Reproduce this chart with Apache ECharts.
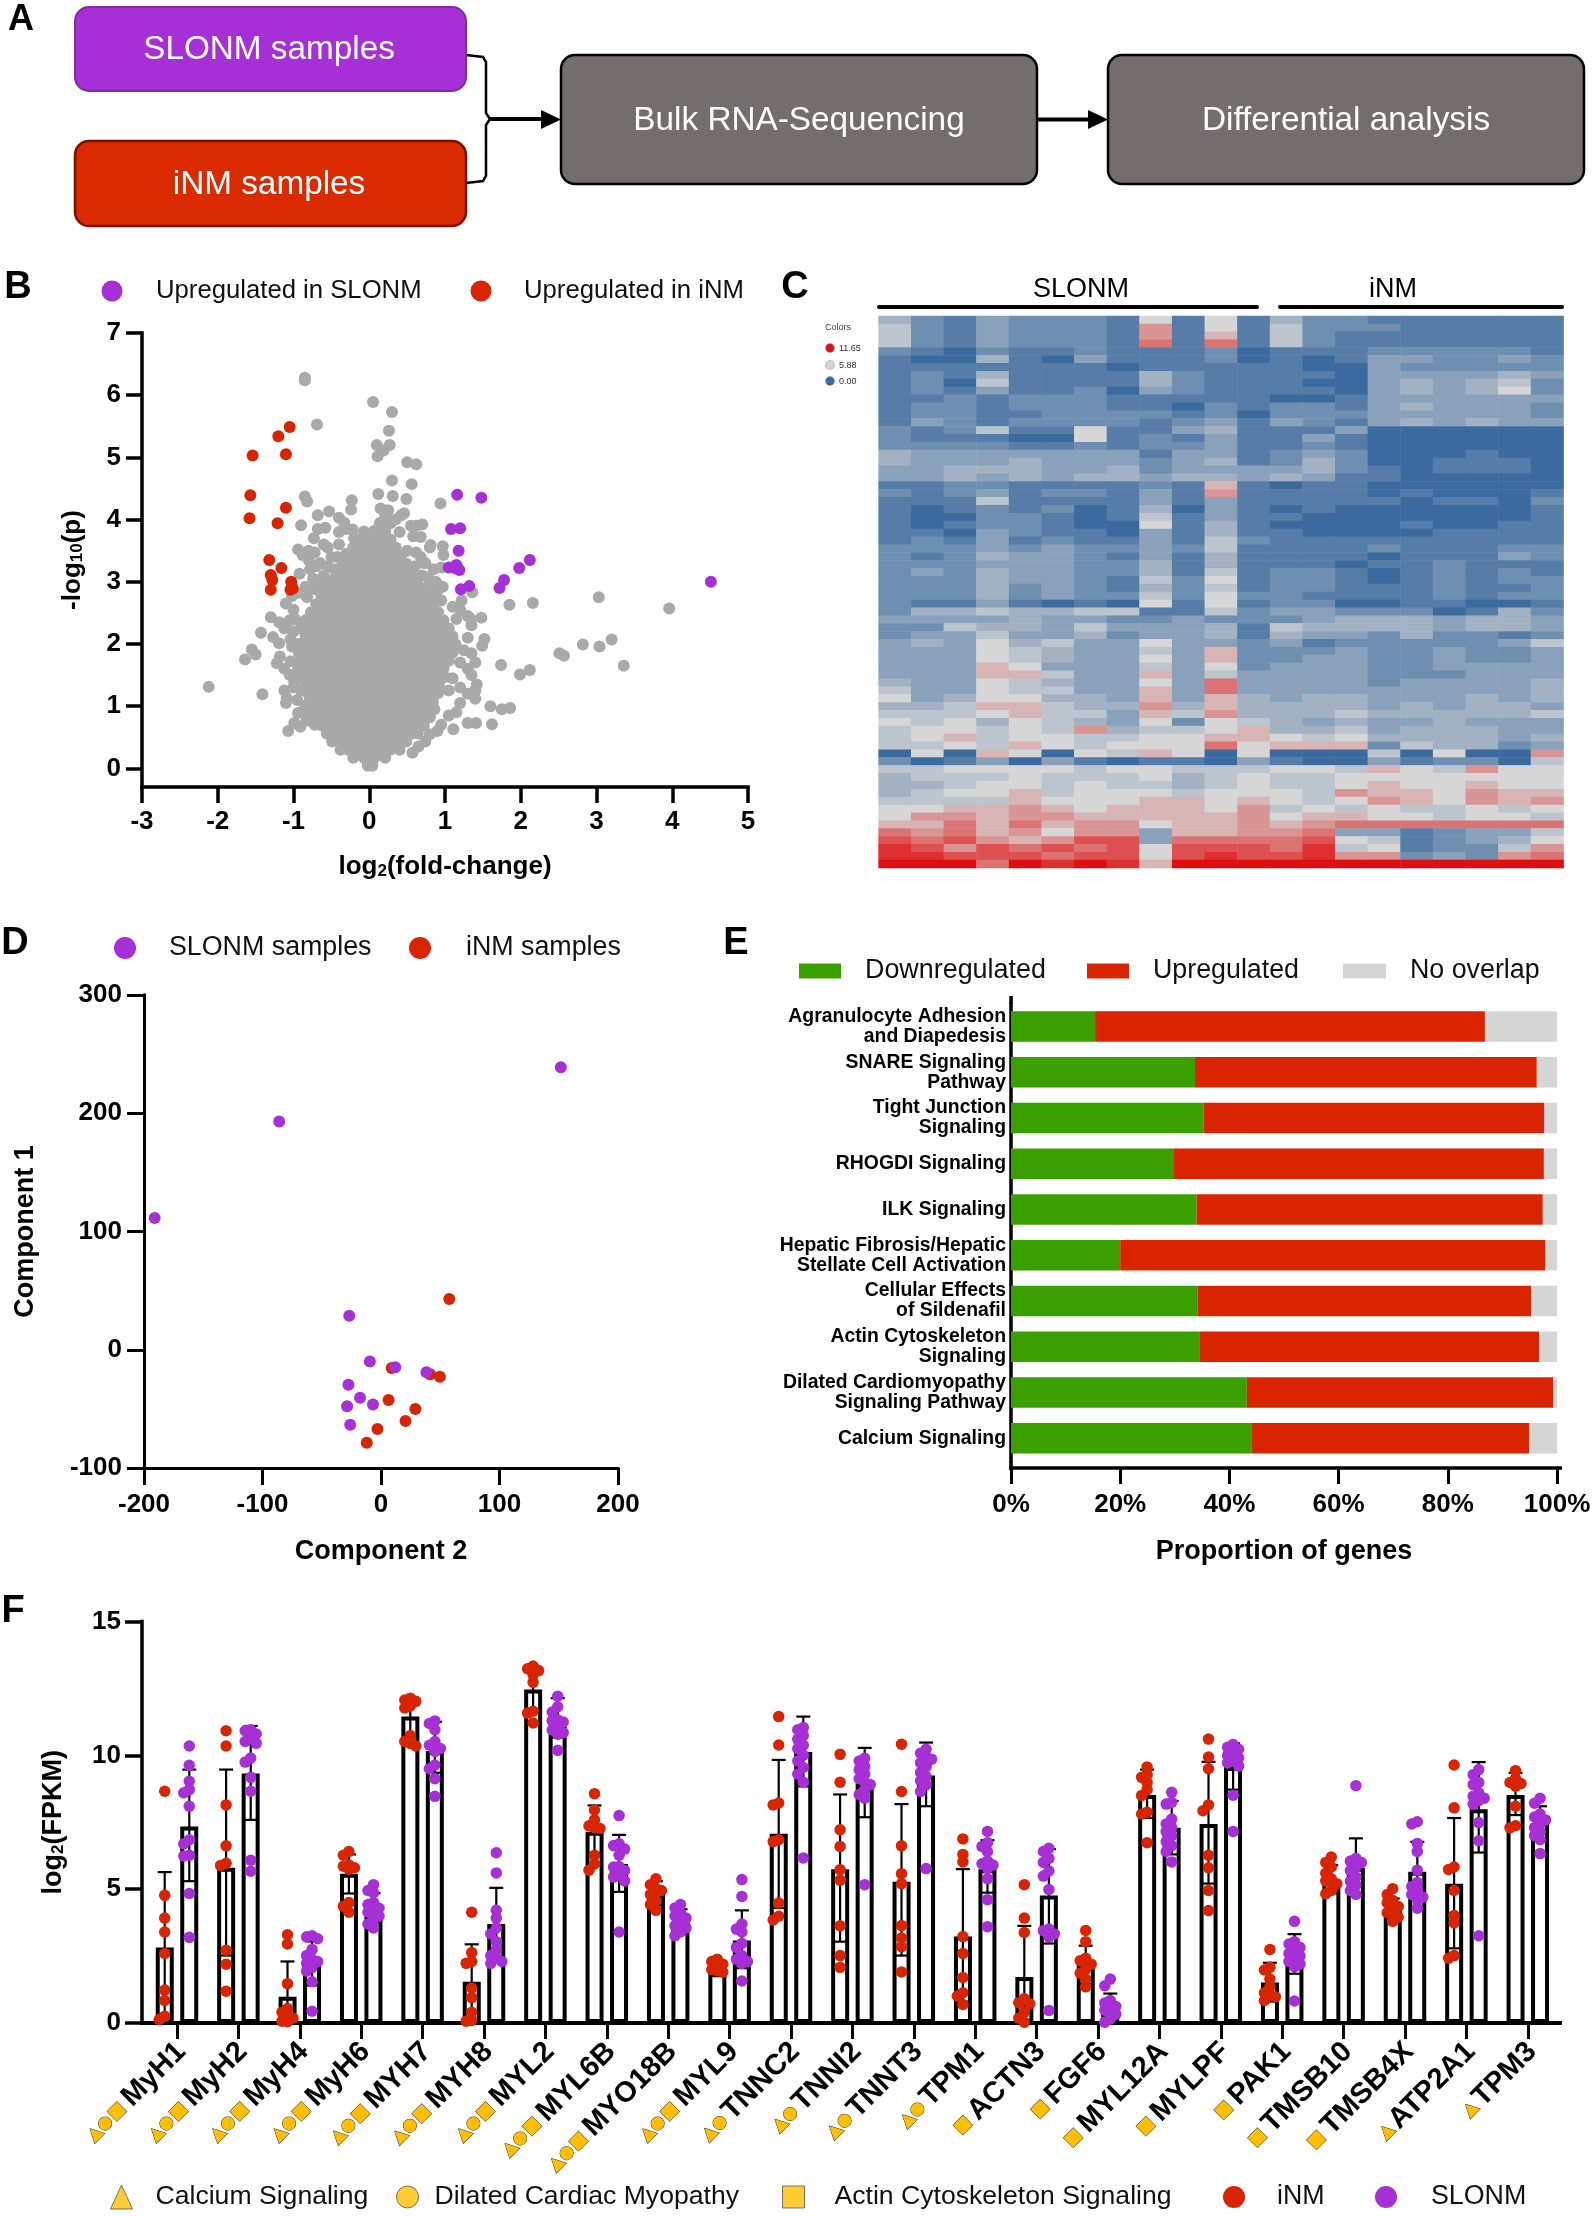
<!DOCTYPE html>
<html><head><meta charset="utf-8">
<style>html,body{margin:0;padding:0;background:#fff}#c{width:1594px;height:2216px}</style>
<script src="https://cdn.jsdelivr.net/npm/echarts@6/dist/echarts.min.js"></script>
</head><body><div id="c"></div>
<script>
const PURPLE='#a62fd6', RED='#d92400', GRAY='#a9a9a9', GREEN='#3aa000', LGRAY='#d5d5d5', GOLD='#ffbf00';
const FONT='"Liberation Sans"';

// ---------- panel B: volcano ----------
const volcanoSlonm=[[1.16,4.4],[1.48,4.35],[1.08,3.85],[1.2,3.86],[1.18,3.5],[1.05,3.23],[1.15,3.27],[1.13,3.22],[1.19,3.19],[2.12,3.35],[1.98,3.22],[1.78,3.03],[1.72,2.9],[1.32,2.93],[1.21,2.88],[4.51,3.0]];
const volcanoInm=[[-1.05,5.49],[-1.2,5.34],[-1.1,5.05],[-1.54,5.03],[-1.57,4.39],[-1.1,4.19],[-1.58,4.02],[-1.21,3.94],[-1.32,3.35],[-1.16,3.22],[-1.3,3.11],[-1.28,3.03],[-1.03,3.0],[-1.3,2.87],[-1.04,2.87],[-1.01,2.89]];
const volcanoOutliers=[[-0.85,6.28],[-0.85,6.24],[-0.69,5.53],[0.05,5.89],[0.3,5.73],[0.26,5.43],[0.1,5.2],[0.27,5.2],[0.19,5.11],[0.11,5.02],[0.5,4.92],[0.62,4.89],[0.3,4.63],[0.56,4.57],[0.12,4.41],[0.31,4.38],[0.49,4.33],[0.94,4.26],[-0.85,4.37],[-0.82,4.29],[-0.23,4.31],[-0.24,4.16],[-0.68,4.07],[-0.53,4.13],[-0.4,4.03],[-0.33,3.95],[-0.9,3.91],[-0.68,3.85],[-0.58,3.87],[-0.22,3.84],[-0.4,3.8],[-0.73,3.7],[-0.94,3.52],[-0.88,3.43],[-0.8,3.5],[-0.72,3.47],[-0.6,3.6],[-0.55,3.55],[-0.5,3.4],[-0.65,3.3],[-0.78,3.2],[-0.92,3.13],[-0.74,3.05],[-0.6,3.1],[-0.46,3.2],[-0.84,2.92],[-0.72,2.88],[-0.6,2.88],[-0.5,3.0],[-0.95,2.82],[-1.1,2.65],[-1.02,2.77],[-1.0,2.55],[-0.5,2.7],[-0.62,2.75],[-0.37,3.0],[-0.42,3.4],[-0.3,3.45],[-0.4,3.6],[-0.2,3.7],[-0.3,3.85],[0.7,3.92],[0.58,3.73],[0.68,3.72],[0.62,3.47],[0.81,3.59],[0.97,3.57],[0.98,3.43],[0.72,3.3],[0.95,3.23],[0.78,3.07],[0.97,2.92],[1.36,2.83],[1.85,2.63],[2.16,2.66],[3.03,2.75],[3.96,2.57],[1.48,2.42],[1.34,2.4],[1.52,2.08],[1.49,1.97],[2.82,1.99],[3.04,1.96],[3.2,2.07],[2.51,1.85],[2.57,1.81],[3.36,1.65],[1.74,1.66],[2.12,1.58],[1.99,1.51],[1.6,1.0],[1.75,0.95],[1.86,0.97],[1.62,0.71],[1.41,0.73],[1.3,0.73],[1.11,0.63],[0.57,0.25],[0.74,0.43],[-2.12,1.31],[-1.41,1.19],[-1.07,0.6],[-1.64,1.75],[-1.55,1.91],[-1.5,1.83],[-1.43,2.18],[-1.3,2.43],[-1.27,2.11],[-1.19,2.01],[-1.04,2.07],[-1.02,1.96],[-1.18,1.8],[-1.22,1.69],[-1.04,1.72],[-1.12,1.6],[-0.99,1.4],[-1.12,1.25],[-1.09,1.13],[-0.94,0.89],[-0.99,0.73],[-0.91,0.67],[-0.83,0.77],[0.8,3.55],[0.74,3.3],[0.88,3.0],[0.8,2.95],[0.7,3.1],[0.85,2.8],[0.95,2.7],[1.1,2.6],[1.2,2.55],[1.3,2.45],[1.22,2.7],[1.15,2.4],[1.35,2.3],[1.3,2.1],[1.25,1.9],[1.35,1.85],[1.4,1.7],[1.3,1.6],[1.2,1.7],[1.35,1.5],[1.42,1.35],[1.4,1.25],[1.3,1.2],[1.4,1.12],[1.2,1.3],[1.1,1.45],[1.05,1.25],[1.15,0.9],[1.05,0.85],[0.95,0.7],[0.9,0.6],[0.8,0.55],[0.65,0.35],[1.2,1.05],[0.35,4.0],[0.25,4.15],[0.15,4.18],[0.42,4.07],[0.46,4.1],[0.55,3.9],[0.62,3.9],[0.4,3.8],[0.07,3.82],[-0.05,3.65],[0.15,3.95],[-1.19,2.35],[-1.05,2.38],[-0.98,2.4],[-1.12,2.25],[-1.0,2.2],[-0.95,2.0],[-1.05,1.5],[-0.95,1.45],[-1.0,1.3],[-0.9,1.25],[-0.92,1.6],[-1.1,1.05],[-0.95,1.1],[-0.85,1.0],[-0.8,0.85],[-0.72,0.7],[-0.82,2.75],[-0.7,3.25],[-0.55,3.25],[-0.62,3.0],[-0.8,3.35],[0.6,3.25],[0.85,3.2],[0.5,3.5],[0.68,3.4],[0.9,2.85],[0.58,3.1]];
// dense gene cloud, read row by row from the solid grey mass
const volcanoCloudP=[0.04,0.17,0.3,0.43,0.56,0.69,0.82,0.95,1.08,1.21,1.34,1.47,1.6,1.73,1.86,1.99,2.12,2.25,2.38,2.51,2.64,2.77,2.9,3.03,3.16,3.29,3.42,3.55,3.68,3.81,3.94,4.07];
const volcanoCloudFC=[
[-0.02,0.04],
[-0.21,-0.07,0.07,0.21],
[-0.38,-0.28,-0.14,0,0.14,0.28,0.4],
[-0.49,-0.35,-0.21,-0.07,0.07,0.21,0.35,0.49],
[-0.56,-0.42,-0.28,-0.14,0,0.14,0.28,0.42,0.56,0.64],
[-0.63,-0.49,-0.35,-0.21,-0.07,0.07,0.21,0.35,0.49,0.63,0.72],
[-0.7,-0.56,-0.42,-0.28,-0.14,0,0.14,0.28,0.42,0.56,0.7,0.8],
[-0.77,-0.63,-0.49,-0.35,-0.21,-0.07,0.07,0.21,0.35,0.49,0.63,0.77,0.86],
[-0.79,-0.7,-0.56,-0.42,-0.28,-0.14,0,0.14,0.28,0.42,0.56,0.7,0.84],
[-0.81,-0.77,-0.63,-0.49,-0.35,-0.21,-0.07,0.07,0.21,0.35,0.49,0.63,0.77,0.91],
[-0.84,-0.7,-0.56,-0.42,-0.28,-0.14,0,0.14,0.28,0.42,0.56,0.7,0.84,0.92],
[-0.91,-0.77,-0.63,-0.49,-0.35,-0.21,-0.07,0.07,0.21,0.35,0.49,0.63,0.77,0.91,1.0],
[-0.94,-0.84,-0.7,-0.56,-0.42,-0.28,-0.14,0,0.14,0.28,0.42,0.56,0.7,0.84,0.98],
[-0.91,-0.77,-0.63,-0.49,-0.35,-0.21,-0.07,0.07,0.21,0.35,0.49,0.63,0.77,0.91,1.05],
[-0.93,-0.84,-0.7,-0.56,-0.42,-0.28,-0.14,0,0.14,0.28,0.42,0.56,0.7,0.84,0.98,1.1],
[-0.91,-0.77,-0.63,-0.49,-0.35,-0.21,-0.07,0.07,0.21,0.35,0.49,0.63,0.77,0.91,1.05,1.14],
[-0.84,-0.7,-0.56,-0.42,-0.28,-0.14,0,0.14,0.28,0.42,0.56,0.7,0.84,0.98,1.1],
[-0.91,-0.77,-0.63,-0.49,-0.35,-0.21,-0.07,0.07,0.21,0.35,0.49,0.63,0.77,0.91,1.05],
[-0.84,-0.7,-0.56,-0.42,-0.28,-0.14,0,0.14,0.28,0.42,0.56,0.7,0.84,0.98],
[-0.77,-0.63,-0.49,-0.35,-0.21,-0.07,0.07,0.21,0.35,0.49,0.63,0.77,0.91],
[-0.7,-0.56,-0.42,-0.28,-0.14,0,0.14,0.28,0.42,0.56,0.7,0.84],
[-0.63,-0.49,-0.35,-0.21,-0.07,0.07,0.21,0.35,0.49,0.63,0.77],
[-0.56,-0.42,-0.28,-0.14,0,0.14,0.28,0.42,0.56,0.7],
[-0.49,-0.35,-0.21,-0.07,0.07,0.21,0.35,0.49,0.63],
[-0.42,-0.28,-0.14,0,0.14,0.28,0.42,0.56],
[-0.35,-0.21,-0.07,0.07,0.21,0.35,0.49],
[-0.28,-0.14,0,0.14,0.28,0.42],
[-0.21,-0.07,0.07,0.21,0.35],
[-0.14,0,0.14,0.28],
[-0.07,0.07,0.21],
[0.14,0.28],
[0.21]];

// ---------- panel C: heatmap, one row per string, digits/hex = level 0..12 ----------
const heatLegendValues=['11.65','5.88','0.00'];
const heatRows=[
"421322216161 422111111","521322218161 522211111","521322218171 521111111","521322219191 521111111",
"210211211120 111222221","100410311120 101332232","111111101111 100322222","121411114211 110333343",
"120511114211 100343452","121311203211 110343462","112122211111 001333333","122122211021 221343332",
"122112222120 222333332","132122221231 321343433","212511611341 113000000","211100612131 131000000",
"222211212231 121000000","433333331331 232000100","433343332341 242001110","334443342333 342101110",
"334343443443 431100000","112211112171 011000000","212312213181 111010001","111511113131 111101102",
"101212014031 010000001","100221015131 100000001","101221006141 000010011","110321103141 100001111",
"121312113152 111111111","222323223251 111211122","212433213141 111011132","222333224141 110112111",
"232433224151 221012121","222433215261 221012122","222423214251 221112112","222423225262 211112122",
"211310106161 220011001","244544551152 332220142","333343322322 234443443","225443533341 544443443",
"233533423341 433242212","343645336332 312222235","333654335372 223223223","333654336372 233223223",
"333763335362 333223333","333775337353 333222333","433654336393 333233334","533655337393 333333334",
"634664437374 344333434","445775448474 444343443","555675537584 445444445","656465436265 434334333",
"566565845567 445344433","567566556677 656444434","556576566696 777254423","060760657606 000506008",
"201303101103 100312205","556666566555 665765866","455565556456 556666666","445665655456 556766766",
"456675666566 658776877","555576667767 656876878","667787677768 565655656","688788777778 677665665",
"779797886778 789999999","989786883778 893312335","a9a878aa3999 9a6512346","ba8a9a9a6aaa 9b5612258",
"bbaaa9aa6aba ab8823289","ccc9cbcb7ccc ccccccccc"];

// ---------- panel D: PCA ----------
const pcaSlonm=[[151.8,239],[-85.9,193],[-191,111.5],[-26.8,28.7],[-9.4,-10],[12,-14.7],[38.4,-19],[-27.5,-29.6],[-17.7,-40.6],[-6.8,-46.3],[-28.6,-47.7],[-26,-63.4]];
const pcaInm=[[57.6,43],[9,-15.4],[41.4,-20.7],[49.7,-22.8],[6.4,-42.4],[29,-50.2],[20.7,-60.2],[-3,-67],[-12,-78.7]];

// ---------- panel E: pathways ----------
const pathways=['Agranulocyte Adhesion\nand Diapedesis','SNARE Signaling\nPathway','Tight Junction\nSignaling','RHOGDI Signaling','ILK Signaling','Hepatic Fibrosis/Hepatic\nStellate Cell Activation','Cellular Effects\nof Sildenafil','Actin Cytoskeleton\nSignaling','Dilated Cardiomyopathy\nSignaling Pathway','Calcium Signaling'];
const downShare=[15.4,33.7,35.3,29.7,34,20,34.2,34.6,43.2,44];
const upShare=[71.4,62.6,62.4,67.9,63.4,77.9,61.1,62.1,56.1,50.9];
const noOverlapShare=[13.2,3.7,2.3,2.4,2.6,2.1,4.7,3.3,0.7,5.1];

// ---------- panel F: genes ----------
const genes=['MyH1','MyH2','MyH4','MyH6','MYH7','MYH8','MYL2','MYL6B','MYO18B','MYL9','TNNC2','TNNI2','TNNT3','TPM1','ACTN3','FGF6','MYL12A','MYLPF','PAK1','TMSB10','TMSB4X','ATP2A1','TPM3'];
const genePathways=['tcs','tcs','tcs','tcs','tcs','tcs','tcs','tcs','tcs','tcs','tc','tc','tc','tc','s','s','s','s','s','s','s','t','t'];
const inmMean=[2.82,5.8,0.98,5.58,11.45,1.54,12.46,7.15,4.84,1.97,7.07,5.75,5.28,3.23,1.72,2.17,8.52,7.44,1.51,5.36,4.29,5.2,8.52];
const inmHigh=[5.64,9.47,2.3,6.3,12.15,2.94,13.3,8.13,5.3,2.25,9.83,8.54,8.18,5.75,3.63,2.89,9.47,9.76,2.25,5.9,4.65,7.66,9.35];
const inmLow=[0,2.52,0,4.84,10.75,0.1,11.6,6.34,4.4,1.75,4.3,3.04,2.52,0.8,0,1.45,7.66,5.21,0.8,4.85,3.95,2.79,7.77];
const slonmMean=[7.34,9.32,2.23,4.29,10.16,3.7,11.18,5.94,3.8,3.08,10.13,8.96,9.25,5.75,4.76,0.62,7.3,9.57,2.38,5.8,5.65,7.99,7.47];
const slonmHigh=[9.47,11.1,3.05,4.85,11.25,5.05,12.14,7.03,4.25,4.21,11.45,10.28,10.48,6.83,6.5,1.1,8.3,10.45,3.32,6.9,6.77,9.75,8.1];
const slonmLow=[5.3,7.59,1.4,3.75,9.35,2.38,10.67,4.9,3.4,2.05,8.84,7.69,8.1,4.87,2.97,0.15,6.3,8.72,1.84,4.8,4.58,6.37,6.9];
const inmDots=[
[8.66,4.77,3.92,3.4,2.6,1.23,0.84,0.25,0.13],
[10.92,10.35,8.15,6.62,5.97,5.89,2.72,2.2,1.19],
[3.3,2.95,1.47,0.54,0.4,0.25,0.18,0.07,0.05],
[6.41,6.27,5.9,5.86,5.8,5.75,4.5,4.36,4.14],
[12.14,12.07,12.02,11.85,11.77,10.74,10.52,10.35,10.45],
[4.14,2.63,2.3,2.23,1.31,0.95,0.4,0.1,0.07],
[13.34,13.24,13.17,13.09,13.02,12.73,11.65,11.58,11.21],
[8.57,7.96,7.59,7.37,7.27,7.3,6.27,5.94,5.71],
[5.39,5.17,5.02,4.92,4.8,4.58,4.43,4.21,4.95],
[2.38,2.3,2.16,2.08,2.0,1.98,1.95,1.9,2.2],
[11.45,10.39,8.22,8.15,6.85,6.78,4.48,3.99,3.85],
[10.04,9.0,7.22,6.6,5.73,5.34,3.63,2.52,2.08],
[10.42,8.65,6.62,5.58,5.21,3.64,3.18,2.85,1.91],
[6.88,6.3,6.02,3.23,2.6,1.7,1.13,1.01,0.69],
[5.17,3.92,3.38,0.91,0.76,0.72,0.4,0.18,0.03],
[3.46,3.04,2.42,2.33,2.01,1.86,1.64,1.35,2.2],
[9.57,9.28,9.18,8.99,8.72,8.5,7.88,7.81,6.74],
[10.61,9.94,9.5,8.15,7.93,6.27,5.8,4.95,4.2],
[2.75,2.08,1.98,1.64,1.35,1.13,1.05,0.98,0.84],
[6.2,6.0,5.83,5.39,5.31,4.95,4.83,5.6,5.2],
[5.02,4.8,4.58,4.5,4.35,4.2,4.12,3.95,3.8],
[9.64,8.04,5.83,5.74,4.95,4.02,3.74,2.52,2.42],
[9.43,9.13,8.99,8.95,8.9,8.1,7.37,7.3,8.85]];
const slonmDots=[
[10.35,9.63,9.03,8.72,8.6,8.1,6.85,6.7,6.27,6.24,4.84,3.2],
[10.96,10.92,10.8,10.68,10.52,10.45,9.9,9.75,9.18,8.66,6.08,5.67],
[3.26,3.22,3.15,2.75,2.52,2.38,2.3,2.23,2.08,1.94,1.54,0.44],
[5.17,4.95,4.87,4.5,4.43,4.29,4.2,4.14,3.99,3.85,3.7,3.55],
[11.29,11.19,10.96,10.52,10.38,10.26,10.2,9.64,9.5,9.13,8.47,10.15],
[6.36,5.61,4.21,3.92,3.55,3.33,3.04,2.74,2.52,2.42,2.3,2.23],
[12.21,11.82,11.62,11.33,11.25,11.18,11.04,10.95,10.85,10.79,10.19,11.3],
[7.75,6.7,6.63,6.5,6.27,5.83,5.7,5.53,5.45,5.31,5.85,3.4],
[4.43,4.3,4.11,3.92,3.85,3.77,3.63,3.55,3.48,3.4,3.26,4.0],
[5.36,4.73,3.7,3.51,3.4,2.97,2.82,2.52,2.38,2.3,2.23,1.57],
[11.04,10.96,10.74,10.6,10.38,10.25,10.01,9.79,9.55,9.3,9.0,6.17],
[9.89,9.79,9.58,9.47,9.13,8.91,8.69,8.54,8.4,9.3,9.0,5.17],
[10.23,10.08,9.86,9.72,9.58,9.36,9.21,9.05,8.9,8.65,9.95,5.77],
[7.16,6.74,6.41,6.05,5.9,5.83,5.78,5.39,4.61,3.6,6.6,5.95],
[6.53,6.41,6.15,5.68,5.49,4.99,3.51,3.33,3.21,0.47,6.0,3.45],
[1.64,1.39,0.84,0.75,0.62,0.54,0.48,0.4,0.33,0.28,0.15,0.03],
[8.62,8.25,8.18,7.62,7.44,7.3,7.15,6.78,6.63,6.41,6.02,7.0],
[10.41,10.23,10.08,10.0,9.9,9.79,9.72,9.6,9.85,10.3,8.51,7.16],
[3.8,3.04,2.82,2.75,2.6,2.5,2.4,2.3,2.2,2.1,2.95,0.82],
[8.87,6.15,6.0,5.9,5.83,5.46,5.3,5.15,4.95,4.8,6.05,5.7],
[7.52,7.44,6.71,6.41,5.71,5.25,5.1,4.95,4.8,4.7,4.6,4.29],
[9.47,9.28,8.99,8.91,8.47,8.32,8.18,8.4,8.6,7.49,6.81,3.26],
[8.4,8.21,7.81,7.59,7.44,7.3,7.15,7.0,6.85,6.33,7.7,7.5]];

// ---------- layout ----------
const GB={left:142,top:333,width:606,height:454};
const GC={left:878.6,top:316,width:685,height:552};
const GD={left:144,top:995,width:474,height:473};
const GE={left:1011,top:1003.6,width:546,height:457.5};
const GF={left:146.3,top:1621.6,width:1412.2,height:401.4};

const numLabel=(margin,extra)=>Object.assign({fontSize:26,fontWeight:'bold',color:'#000',margin,fontFamily:FONT},extra||{});
const line=(w)=>({show:true,onZero:false,lineStyle:{color:'#000',width:w,cap:'square'}});
const tick=(w,l)=>({show:true,length:l,lineStyle:{color:'#000',width:w}});
const axisName=(t,gap,rot,fs)=>({name:t,nameLocation:'middle',nameGap:gap,nameRotate:rot,nameTextStyle:{
  fontFamily:FONT,fontWeight:'bold',fontSize:fs||26,color:'#000',
  rich:{b:{fontFamily:FONT,fontWeight:'bold',fontSize:fs||26,color:'#000'},s:{fontFamily:FONT,fontWeight:'bold',fontSize:17,color:'#000',verticalAlign:'bottom',padding:[10,0,0,0]}}}});

const grids=[GB,GC,GD,GE,GF];
const tenTicks=(a)=>({customValues:a});
const yB=[0,1,2,3,4,5,6,7];
const yPad={padding:[4,0,0,0]};
const xAxes=[
 Object.assign({type:'value',gridIndex:0,min:-3,max:5,interval:1,splitLine:{show:false},axisLine:line(3.5),axisTick:tick(3.5,16),axisLabel:numLabel(22)},axisName('{b|log}{s|2}{b|(fold-change)}',66)),
 {type:'category',gridIndex:1,show:false,data:Array.from({length:21},(_,i)=>i)},
 Object.assign({type:'value',gridIndex:2,min:-200,max:200,interval:100,splitLine:{show:false},axisLine:line(3),axisTick:tick(3,17),axisLabel:numLabel(24)},axisName('Component 2',70,undefined,27)),
 Object.assign({type:'value',gridIndex:3,min:0,max:100,interval:20,offset:7,splitLine:{show:false},axisLine:line(3.5),axisTick:tick(3,16),axisLabel:numLabel(24,{formatter:'{value}%'})},axisName('Proportion of genes',70,undefined,27)),
 {type:'category',gridIndex:4,data:genes,axisLine:line(4),axisTick:Object.assign(tick(3,16),{alignWithLabel:true}),axisLabel:{interval:0,rotate:45,margin:20,padding:[12,0,0,0],formatter:(v,i)=>{
    const m=genePathways[i]||'';let s='';
    if(m.includes('t'))s+='{t|▲}';
    if(m.includes('c'))s+='{c|●}';
    if(m.includes('s'))s+='{s|■}';
    return s+'{n|'+v+'}';
  },rich:{
    t:{fontFamily:'DejaVu Sans',fontSize:18,color:GOLD,textBorderColor:'#333',textBorderWidth:1},
    c:{fontFamily:'DejaVu Sans',fontSize:17,color:GOLD,textBorderColor:'#333',textBorderWidth:1},
    s:{fontFamily:'DejaVu Sans',fontSize:18,color:GOLD,textBorderColor:'#333',textBorderWidth:1,padding:[0,2,0,1]},
    n:{fontFamily:FONT,fontWeight:'bold',fontSize:29,color:'#000',padding:[0,0,0,3]}
  }}},
 {type:'value',gridIndex:4,show:false,min:-0.5,max:22.5}
];
const yAxes=[
 Object.assign({type:'value',gridIndex:0,min:-0.3,max:7,splitLine:{show:false},axisLine:line(3.5),axisTick:Object.assign(tick(3.5,16),tenTicks(yB)),axisLabel:numLabel(21,Object.assign({},yPad,tenTicks(yB)))},axisName('{b|-log}{s|10}{b|(p)}',56,90)),
 {type:'category',gridIndex:1,show:false,inverse:true,data:heatRows.map((_,i)=>i)},
 Object.assign({type:'value',gridIndex:2,min:-100,max:300,interval:100,splitLine:{show:false},axisLine:line(3),axisTick:tick(3,17),axisLabel:numLabel(22,yPad)},axisName('Component 1',105,90,27)),
 {type:'category',gridIndex:3,inverse:true,data:pathways,axisLine:line(3.5),axisTick:{show:false},axisLabel:{fontFamily:FONT,fontWeight:'bold',fontSize:19.4,lineHeight:20,color:'#000',margin:5,align:'right',padding:[3,0,0,0]}},
 Object.assign({type:'value',gridIndex:4,min:0,max:15,interval:5,offset:4.3,splitLine:{show:false},axisLine:line(3.5),axisTick:tick(3.5,17),axisLabel:numLabel(21,yPad)},axisName('{b|log}{s|2}{b|(FPKM)}',75,90,27))
];

// ---------- series ----------
const scatter=(name,data,color,size,ax,z)=>({type:'scatter',name,data,xAxisIndex:ax,yAxisIndex:ax,symbolSize:size,clip:false,z:z||2,itemStyle:{color,opacity:1},silent:true});
const cloud=[];volcanoCloudP.forEach((p,i)=>volcanoCloudFC[i].forEach(fc=>cloud.push([fc,p])));

const heatData=[];heatRows.forEach((r,ri)=>{const s=r.replace(' ','');for(let c=0;c<21;c++)heatData.push([c,ri,parseInt(s[c],16)]);});

// beeswarm layout of the replicate dots around their bar
const PX_PER_VALUE=GF.height/15, PX_PER_GENE=GF.width/23, BAR_SHIFT=12.3/PX_PER_GENE;
function swarm(values,center){
  const placed=[],out=[];
  [...values].sort((a,b)=>b-a).forEach(v=>{
    for(const k of [0,-5.5,5.5,-10,10]){
      if(!placed.some(p=>Math.abs(p[0]-k)<5&&Math.abs(p[1]-v)*PX_PER_VALUE<7)){placed.push([k,v]);out.push([center+k/PX_PER_GENE,v]);return;}
    }
    out.push([center,v]);
  });
  return out;
}
const dotsOf=(all,sign)=>all.flatMap((vals,i)=>swarm(vals,i+sign*BAR_SHIFT));
const errData=(hi,lo,sign)=>hi.map((h,i)=>[i+sign*BAR_SHIFT,lo[i],h]);
const errSeries=(name,data)=>({type:'custom',name,xAxisIndex:5,yAxisIndex:4,data,z:3,clip:false,silent:true,encode:{x:0,y:[1,2]},
  renderItem(p,api){
    const a=api.coord([api.value(0),api.value(1)]),b=api.coord([api.value(0),api.value(2)]);
    const st={stroke:'#000',lineWidth:2.2,fill:null};
    return {type:'group',children:[
      {type:'line',shape:{x1:a[0],y1:a[1],x2:b[0],y2:b[1]},style:st},
      {type:'line',shape:{x1:a[0]-7,y1:a[1],x2:a[0]+7,y2:a[1]},style:st},
      {type:'line',shape:{x1:b[0]-7,y1:b[1],x2:b[0]+7,y2:b[1]},style:st}]};
  }});
const barStyle={color:'#fff',borderColor:'#000',borderWidth:4};
const stack=(name,data,color)=>({type:'bar',name,data,stack:'e',xAxisIndex:3,yAxisIndex:3,barWidth:30.6,itemStyle:{color},silent:true});

const series=[
 scatter('Not significant',cloud.concat(volcanoOutliers),GRAY,12,0,1),
 scatter('Upregulated in SLONM',volcanoSlonm,PURPLE,12,0,3),
 scatter('Upregulated in iNM',volcanoInm,RED,12,0,3),
 {type:'heatmap',name:'Expression',data:heatData,xAxisIndex:1,yAxisIndex:1,progressive:0,silent:true,emphasis:{disabled:true}},
 scatter('SLONM samples',pcaSlonm,PURPLE,12,2,3),
 scatter('iNM samples',pcaInm,RED,12,2,2),
 stack('Downregulated',downShare,GREEN),stack('Upregulated',upShare,RED),stack('No overlap',noOverlapShare,LGRAY),
 {type:'bar',name:'iNM mean',data:inmMean,xAxisIndex:4,yAxisIndex:4,barWidth:18,barGap:'36%',itemStyle:barStyle,silent:true,z:1},
 {type:'bar',name:'SLONM mean',data:slonmMean,xAxisIndex:4,yAxisIndex:4,barWidth:18,barGap:'36%',itemStyle:barStyle,silent:true,z:1},
 errSeries('iNM SD',errData(inmHigh,inmLow,-1)),errSeries('SLONM SD',errData(slonmHigh,slonmLow,1)),
 Object.assign(scatter('iNM',dotsOf(inmDots,-1),RED,11.5,5,4),{xAxisIndex:5,yAxisIndex:4}),
 Object.assign(scatter('SLONM',dotsOf(slonmDots,1),PURPLE,11.5,5,4),{xAxisIndex:5,yAxisIndex:4}),
 {type:'scatter',name:'Calcium Signaling',data:[],xAxisIndex:5,yAxisIndex:4},
 {type:'scatter',name:'Dilated Cardiac Myopathy',data:[],xAxisIndex:5,yAxisIndex:4},
 {type:'scatter',name:'Actin Cytoskeleton Signaling',data:[],xAxisIndex:5,yAxisIndex:4}
];

// ---------- legends: one per item for exact placement ----------
const leg=(name,icon,color,cx,cy,w,h,textX,fs,border)=>({
  data:[{name,icon,itemStyle:{color,borderColor:border||color,borderWidth:border?1:0}}],
  left:cx-w/2,top:cy-17,orient:'horizontal',padding:0,itemWidth:w,itemHeight:h,selectedMode:false,
  textStyle:{fontFamily:FONT,fontSize:fs,color:'#111',lineHeight:36,padding:[0,0,0,textX-(cx+w/2)-5]}
});
const legends=[
 leg('Upregulated in SLONM','circle',PURPLE,112,290,21,21,156,25.7),
 leg('Upregulated in iNM','circle',RED,481,290,21,21,524,25.7),
 leg('SLONM samples','circle',PURPLE,125,947,22,22,169,26.8),
 leg('iNM samples','circle',RED,420,947,22,22,466,26.8),
 leg('Downregulated','rect',GREEN,820,970,42,15,865,26.9),
 leg('Upregulated','rect',RED,1108,970,42,15,1153,26.8),
 leg('No overlap','rect',LGRAY,1364.5,970,43,15,1410,26.8),
 leg('Calcium Signaling','triangle',GOLD,121,2196,22,24,155,26.6,'#555'),
 leg('Dilated Cardiac Myopathy','circle',GOLD,407,2196,22,22,434,26.6,'#555'),
 leg('Actin Cytoskeleton Signaling','rect',GOLD,793,2196,22,22,834,26.6,'#555'),
 leg('iNM','circle',RED,1234,2196,22,22,1277,26.8),
 leg('SLONM','circle',PURPLE,1386,2196,22,22,1431,26.8)
];

// ---------- non-data drawing: flow chart, panel letters, headings, axis extensions ----------
const txt=(t,x,y,font,fill,align)=>({type:'text',x,y,z:10,style:{text:t,font,fill:fill||'#000',align:align||'center',verticalAlign:'middle'}});
const box=(x,y,w,h,fill,stroke,lw,t,tx,fs)=>[
 {type:'rect',x,y,z:5,shape:{width:w,height:h,r:14},style:{fill,stroke,lineWidth:lw}},
 txt(t,tx,y+h/2+1,(fs||33.3)+'px '+FONT,'#fff')];
const stub=(x,y,w,h)=>({type:'rect',x,y,z:6,shape:{width:w,height:h},style:{fill:'#000'}});
const heatDots=[['#d8131a',348],['#d4d4d4',365],['#3b6b9e',381]];
const graphic=[
 ...box(75,7,391,84,PURPLE,'#7a2f9e',2,'SLONM samples',269),
 ...box(75,141,391,85,'#d92a00','#7e0f00',2.5,'iNM samples',269),
 ...box(561,55,476,129,'#736e6c','#000',2.5,'Bulk RNA-Sequencing',799),
 ...box(1108,55,476,129,'#736e6c','#000',2.5,'Differential analysis',1346),
 {type:'polyline',z:4,shape:{points:[[466,55],[483,57],[486,62],[486,113],[490,119],[486,125],[486,176],[483,181],[466,183]]},style:{stroke:'#000',lineWidth:2.5,fill:null}},
 {type:'line',z:4,shape:{x1:489,y1:119,x2:545,y2:119},style:{stroke:'#000',lineWidth:4}},
 {type:'polygon',z:4,shape:{points:[[541,110],[561,119.5],[541,129]]},style:{fill:'#000'}},
 {type:'line',z:4,shape:{x1:1037,y1:119.5,x2:1092,y2:119.5},style:{stroke:'#000',lineWidth:4}},
 {type:'polygon',z:4,shape:{points:[[1088,110],[1108,119.5],[1088,129]]},style:{fill:'#000'}},
 txt('A',21,20,'bold 36px '+FONT),txt('B',18,288,'bold 38px '+FONT),txt('C',795,288,'bold 38px '+FONT),
 txt('D',15,944,'bold 38px '+FONT),txt('E',736,944,'bold 38px '+FONT),txt('F',13,1612,'bold 38px '+FONT),
 txt('SLONM',1081,290,'27px '+FONT),txt('iNM',1393,290,'27px '+FONT),
 {type:'rect',x:877,y:305,z:6,shape:{width:382,height:4,r:2},style:{fill:'#000'}},
 {type:'rect',x:1278,y:305,z:6,shape:{width:286,height:4,r:2},style:{fill:'#000'}},
 txt('Colors',825,328,'9px '+FONT,'#444','left'),
 ...heatDots.map((d,i)=>({type:'circle',z:6,shape:{cx:830,cy:d[1],r:4.5},style:{fill:d[0],stroke:'#999',lineWidth:0.5}})),
 ...heatDots.map((d,i)=>txt(heatLegendValues[i],839,d[1]+1,'9px '+FONT,'#333','left')),
 // axis-line extensions where the line runs past the plotted band
 stub(1009.3,996,3.5,8),stub(1009.3,1461,3.5,9),stub(1557,1466.3,5,3.5),
 stub(140,2021,7,4),stub(1558,2021,4,4)
];

const chart=echarts.init(document.getElementById('c'),null,{renderer:'canvas'});
chart.setOption({
 animation:false,backgroundColor:'#fff',textStyle:{fontFamily:FONT},
 grid:grids.map(g=>Object.assign({containLabel:false},g)),
 xAxis:xAxes,yAxis:yAxes,legend:legends,
 visualMap:{type:'continuous',show:false,seriesIndex:3,min:0,max:12,inRange:{color:['#3b6b9e','#d6d6d6','#e00f0f']}},
 series,graphic
});
</script></body></html>
